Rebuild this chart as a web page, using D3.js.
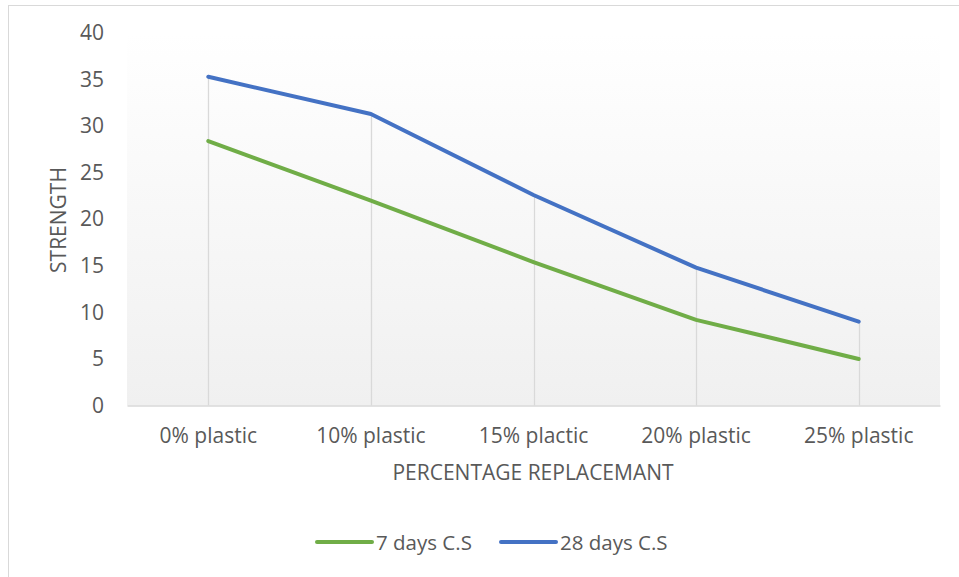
<!DOCTYPE html>
<html><head><meta charset="utf-8">
<script src="https://cdn.jsdelivr.net/npm/d3@7"></script>
<style>body{margin:0;background:#fff}svg{display:block}text{font-family:"Open Sans",sans-serif;fill:#595959}</style>
</head><body><svg id="c" width="959" height="577"></svg>
<script>
const categories = ["0% plastic","10% plastic","15% plactic","20% plastic","25% plastic"];
const days7 = [28.4, 22.0, 15.4, 9.2, 5.0];
const days28 = [35.3, 31.3, 22.6, 14.8, 9.0];
const yTicks = [0,5,10,15,20,25,30,35,40];
const seriesNames = ["7 days C.S","28 days C.S"];
const seriesColors = ["#70ad47","#4472c4"];

const svg = d3.select("#c");
const L=127, R=940, T=33, B=405.5;
svg.append("rect").attr("x",8.5).attr("y",5.5).attr("width",960).attr("height",580).attr("fill","#fff").attr("stroke","#d9d9d9");
const defs=svg.append("defs");
const g=defs.append("linearGradient").attr("id","pg").attr("x1",0).attr("y1",0).attr("x2",0).attr("y2",1);
g.append("stop").attr("offset","0").attr("stop-color","#ffffff");
g.append("stop").attr("offset","1").attr("stop-color","#f0f0f0");
svg.append("rect").attr("x",L).attr("y",T).attr("width",R-L).attr("height",B-T).attr("fill","url(#pg)");

const x=d3.scaleBand().domain(categories).range([L,R]);
const y=d3.scaleLinear().domain([0,40]).range([B,T]);
const cx=c=>x(c)+x.bandwidth()/2;

categories.forEach((c,i)=>{
  const top=Math.max(days7[i],days28[i]);
  svg.append("line").attr("x1",Math.round(cx(c))+0.5).attr("x2",Math.round(cx(c))+0.5).attr("y1",y(top)).attr("y2",B)
    .attr("stroke","#d9d9d9").attr("stroke-width",1.3);
});
const xa=svg.append("g").attr("transform",`translate(0,${B})`).call(d3.axisBottom(x).tickSize(0).tickPadding(23));
xa.select(".domain").attr("stroke","#d9d9d9").attr("stroke-width",1.5);
xa.selectAll("text").style("font-size","21px").style("fill","#595959").style("font-family","Open Sans");
const ya=svg.append("g").attr("transform",`translate(${L},0)`).call(d3.axisLeft(y).tickValues(yTicks).tickSize(0).tickPadding(23));
ya.select(".domain").remove();
ya.selectAll("text").style("font-size","21px").style("fill","#595959").style("font-family","Open Sans");

const line=d3.line().x((d,i)=>cx(categories[i])).y(d=>y(d));
[days7,days28].forEach((s,k)=>{
  svg.append("path").datum(s).attr("d",line).attr("fill","none").attr("stroke",seriesColors[k])
    .attr("stroke-width",4).attr("stroke-linecap","round").attr("stroke-linejoin","round");
});

svg.append("text").attr("x",533).attr("y",472).attr("text-anchor","middle").attr("dominant-baseline","central")
  .style("font-size","21px").text("PERCENTAGE REPLACEMANT");
svg.append("text").attr("transform","translate(58,220) rotate(-90)").attr("text-anchor","middle").attr("dominant-baseline","central")
  .style("font-size","21px").text("STRENGTH");

const lx=[317,501];
seriesNames.forEach((n,k)=>{
  svg.append("line").attr("x1",lx[k]).attr("x2",lx[k]+55).attr("y1",542).attr("y2",542)
    .attr("stroke",seriesColors[k]).attr("stroke-width",4).attr("stroke-linecap","round");
  svg.append("text").attr("x",lx[k]+59).attr("y",542).attr("dominant-baseline","central").style("font-size","20.5px").text(n);
});
</script></body></html>
